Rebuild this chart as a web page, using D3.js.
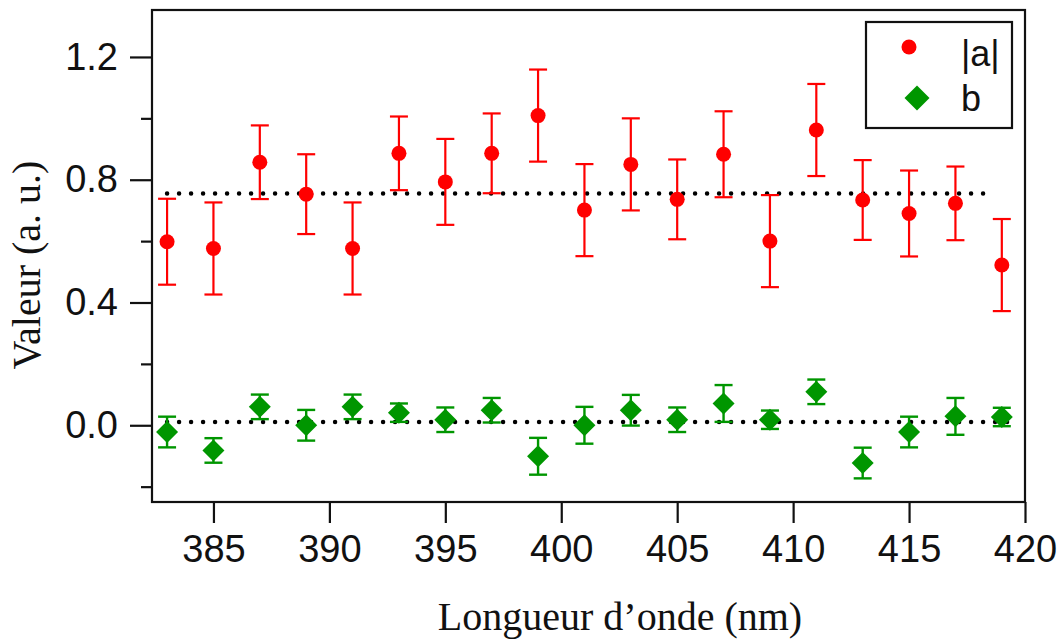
<!DOCTYPE html>
<html><head><meta charset="utf-8">
<script src="https://cdn.jsdelivr.net/npm/d3@7"></script>
<style>html,body{margin:0;padding:0;background:#fff}</style>
</head><body>
<svg id="chart" width="1062" height="639"></svg>
<script>
// Data
const wavelengths = [383,385,387,389,391,393,395,397,399,401,403,405,407,409,411,413,415,417,419];
const aValues = [0.598,0.576,0.857,0.753,0.576,0.886,0.793,0.886,1.009,0.701,0.850,0.736,0.883,0.600,0.962,0.734,0.690,0.723,0.522];
const aErrors = [0.14,0.15,0.12,0.13,0.15,0.12,0.14,0.13,0.15,0.15,0.15,0.13,0.14,0.15,0.15,0.13,0.14,0.12,0.15];
const bValues = [-0.022,-0.082,0.060,0.0,0.060,0.041,0.018,0.049,-0.101,0.0,0.049,0.018,0.071,0.018,0.109,-0.123,-0.022,0.029,0.027];
const bErrors = [0.05,0.04,0.04,0.05,0.04,0.03,0.04,0.04,0.06,0.06,0.05,0.04,0.06,0.03,0.04,0.05,0.05,0.06,0.03];
const aMean = {x0:383, x1:418.6, y:0.755};
const bMean = {x0:383, x1:419.6, y:0.011};
const xTicks = [385,390,395,400,405,410,415,420];
const yMajorTicks = [0.0,0.4,0.8,1.2];
const yMinorTicks = [-0.2,0.2,0.6,1.0];
const seriesNames = ["|a|","b"];
const xTitle = "Longueur d\u2019onde (nm)";
const yTitle = "Valeur (a. u.)";

const svg = d3.select("#chart");
const L=152, R=1025, T=10, B=502;
const x = d3.scaleLinear().domain([382.35,420]).range([L,R]);
const y = d3.scaleLinear().domain([-0.25,1.353]).range([B,T]);
const red="#ff0000", green="#009600";
const tickFont = "'Liberation Sans', Arial, sans-serif";
const serif = "'Liberation Serif', 'Times New Roman', serif";

// axes
const xAxis = d3.axisBottom(x).tickValues(xTicks).tickSize(21).tickPadding(12).tickFormat(d3.format("d"));
const gx = svg.append("g").attr("transform",`translate(0,${B})`).call(xAxis);
gx.select(".domain").remove();
gx.selectAll(".tick line").attr("stroke","#111").attr("stroke-width",2.2);
gx.selectAll(".tick text").attr("font-family",tickFont).attr("font-size",38).attr("fill","#111");

const yAxis = d3.axisLeft(y).tickValues(yMajorTicks).tickSize(22).tickPadding(12).tickFormat(d3.format(".1f"));
const gy = svg.append("g").attr("transform",`translate(${L},0)`).call(yAxis);
gy.select(".domain").remove();
gy.selectAll(".tick line").attr("stroke","#111").attr("stroke-width",2.2);
gy.selectAll(".tick text").attr("font-family",tickFont).attr("font-size",38).attr("fill","#111");

const gym = svg.append("g").attr("transform",`translate(${L},0)`).call(d3.axisLeft(y).tickValues(yMinorTicks).tickSize(11).tickFormat(""));
gym.select(".domain").remove();
gym.selectAll(".tick line").attr("stroke","#111").attr("stroke-width",2.2);

// frame
svg.append("rect").attr("x",L).attr("y",T).attr("width",R-L).attr("height",B-T)
  .attr("fill","none").attr("stroke","#111").attr("stroke-width",2.2);

// mean dotted lines
[aMean,bMean].forEach(m=>{
  svg.append("line").attr("x1",x(m.x0)).attr("x2",x(m.x1)).attr("y1",y(m.y)).attr("y2",y(m.y))
    .attr("stroke","#000").attr("stroke-width",4.5).attr("stroke-linecap","round")
    .attr("stroke-dasharray","0 12");
});

// error bars
function errorBars(vals, errs, color, sw){
  const g = svg.append("g").attr("stroke",color).attr("stroke-width",sw).attr("fill","none");
  vals.forEach((v,i)=>{
    const cx=x(wavelengths[i]), y0=y(v-errs[i]), y1=y(v+errs[i]);
    g.append("line").attr("x1",cx).attr("x2",cx).attr("y1",y0).attr("y2",y1);
    g.append("line").attr("x1",cx-9).attr("x2",cx+9).attr("y1",y0).attr("y2",y0);
    g.append("line").attr("x1",cx-9).attr("x2",cx+9).attr("y1",y1).attr("y2",y1);
  });
}
errorBars(aValues,aErrors,red,2.2);
errorBars(bValues,bErrors,green,2.4);

// markers
svg.append("g").selectAll("circle").data(aValues).join("circle")
  .attr("cx",(d,i)=>x(wavelengths[i])).attr("cy",d=>y(d)).attr("r",7.5).attr("fill",red);
const dsize = 11;
svg.append("g").selectAll("path").data(bValues).join("path")
  .attr("d",(d,i)=>{const cx=x(wavelengths[i]), cy=y(d);
    return `M${cx},${cy-dsize}L${cx+dsize},${cy}L${cx},${cy+dsize}L${cx-dsize},${cy}Z`;})
  .attr("fill",green);

// titles
svg.append("text").attr("x",620).attr("y",630).attr("text-anchor","middle")
  .attr("font-family",serif).attr("font-size",40).attr("fill","#111").text(xTitle);
svg.append("text").attr("transform","translate(40,265) rotate(-90)").attr("text-anchor","middle")
  .attr("font-family",serif).attr("font-size",40).attr("fill","#111").text(yTitle);

// legend
const lg = svg.append("g");
lg.append("rect").attr("x",866).attr("y",22).attr("width",146).attr("height",106)
  .attr("fill","#fff").attr("stroke","#111").attr("stroke-width",2.2);
lg.append("circle").attr("cx",909).attr("cy",47).attr("r",7.5).attr("fill",red);
lg.append("path").attr("d",`M917,${98-12.5}L${917+12.5},98L917,${98+12.5}L${917-12.5},98Z`).attr("fill",green);
lg.append("text").attr("x",961).attr("y",66).attr("font-family",tickFont).attr("font-size",36).attr("fill","#111").text(seriesNames[0]);
lg.append("text").attr("x",961).attr("y",111).attr("font-family",tickFont).attr("font-size",36).attr("fill","#111").text(seriesNames[1]);
</script>
</body></html>
